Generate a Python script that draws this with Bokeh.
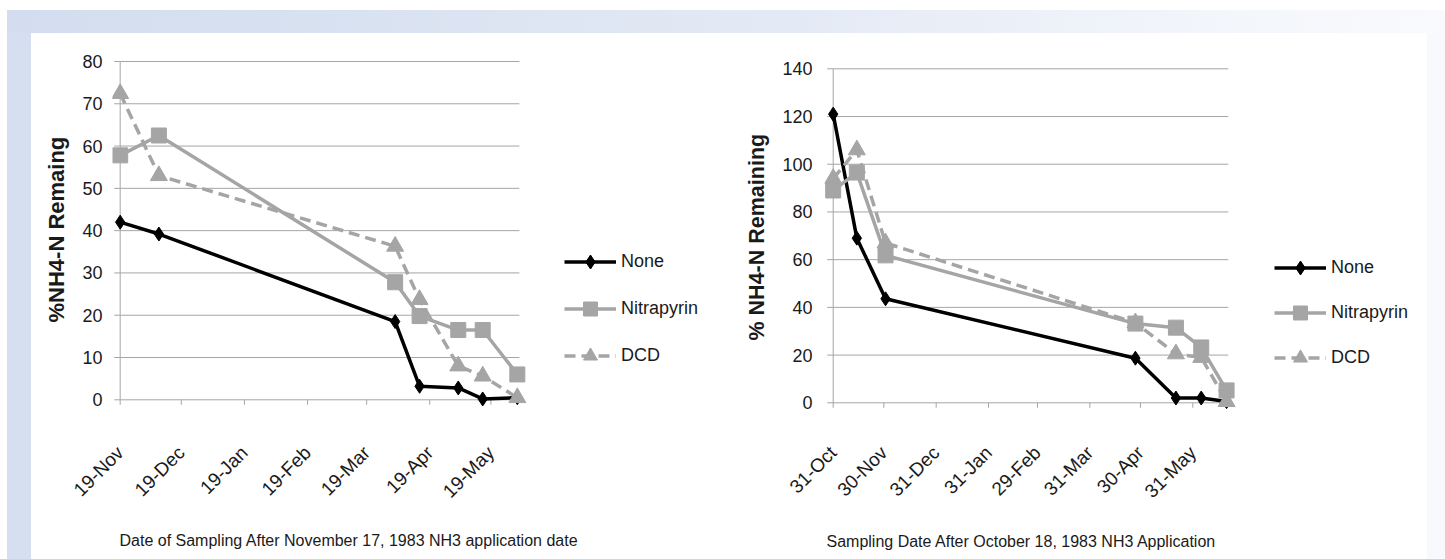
import math
import pandas as pd
from bokeh.plotting import figure
from bokeh.models import (Range1d, FixedTicker, DatetimeTickFormatter, Legend,
                          LegendItem, Title, Div, ColumnDataSource)
from bokeh.layouts import row, column
from bokeh.embed import file_html
from bokeh.resources import INLINE

# ---------------- data ----------------
series_names = ["None", "Nitrapyrin", "DCD"]

# Chart 1: NH3 applied November 17, 1983
c1_dates = ["1983-11-19", "1983-12-08", "1984-04-02", "1984-04-14",
            "1984-05-03", "1984-05-15", "1984-06-01"]
c1_none = [42.0, 39.2, 18.5, 3.2, 2.8, 0.2, 0.5]
c1_nitrapyrin = [57.8, 62.5, 27.8, 19.8, 16.5, 16.5, 6.0]
c1_dcd = [72.4, 53.0, 36.3, 23.7, 8.0, 5.6, 0.5]
c1_xticks = ["1983-11-19", "1983-12-19", "1984-01-19", "1984-02-19",
             "1984-03-19", "1984-04-19", "1984-05-19"]
c1_axis_end = "1984-06-02"
c1_yticks = [0, 10, 20, 30, 40, 50, 60, 70, 80]
c1_ytitle = "%NH4-N Remaing"
c1_xtitle = "Date of Sampling After November 17, 1983 NH3 application date"

# Chart 2: NH3 applied October 18, 1983
c2_dates = ["1983-10-31", "1983-11-14", "1983-12-01", "1984-04-27",
            "1984-05-21", "1984-06-05", "1984-06-20"]
c2_none = [121.0, 69.0, 43.6, 18.7, 2.0, 2.0, 0.5]
c2_nitrapyrin = [89.0, 96.5, 61.8, 33.2, 31.5, 23.2, 5.2]
c2_dcd = [94.0, 106.0, 67.0, 33.5, 20.5, 19.0, 0.5]
c2_xticks = ["1983-10-31", "1983-11-30", "1983-12-31", "1984-01-31",
             "1984-02-29", "1984-03-31", "1984-04-30", "1984-05-31"]
c2_axis_end = "1984-06-21"
c2_yticks = [0, 20, 40, 60, 80, 100, 120, 140]
c2_ytitle = "% NH4-N Remaining"
c2_xtitle = "Sampling Date After October 18, 1983 NH3 Application"

# ---------------- styling ----------------
FONT = "Liberation Sans"
GRID = "#a6a6a6"
GRAY = "#a5a5a5"
TXT = "#1a1a1a"


def ms(d):
    return (pd.Timestamp(d) - pd.Timestamp("1970-01-01")) / pd.Timedelta(milliseconds=1)


def make_chart(dates, none, nitra, dcd, xticks, axis_end, yticks, ytitle, xtitle,
               width, height, frame_px, axis_px, px_per_day, px_per_unit,
               frame_top_px, zero_px, frame_bottom_px,
               min_left, min_top, min_right, min_bottom,
               legend_loc, legend_spacing,
               ytitle_size, ytitle_offset, ytitle_standoff,
               xtitle_offset, xtitle_standoff, ylab_standoff, xlab_standoff,
               spacer):
    x_start = pd.Timestamp(xticks[0])
    x_end = pd.Timestamp(axis_end)
    # ranges chosen so the Excel axis sits at the right pixel inside a wider frame
    r_lo = x_start - pd.Timedelta(days=(axis_px - frame_px[0]) / px_per_day)
    r_hi = x_start + pd.Timedelta(days=(frame_px[1] - axis_px) / px_per_day)
    y_lo = -(frame_bottom_px - zero_px) / px_per_unit
    y_hi = (zero_px - frame_top_px) / px_per_unit
    p = figure(width=width, height=height, output_backend="svg",
               toolbar_location=None, x_axis_type="datetime",
               x_range=Range1d(r_lo, r_hi), y_range=Range1d(y_lo, y_hi),
               min_border_left=min_left, min_border_right=min_right,
               min_border_top=min_top, min_border_bottom=min_bottom)
    p.title.visible = False
    p.outline_line_color = None
    p.background_fill_color = "white"
    p.border_fill_color = "white"
    p.xgrid.visible = False
    p.ygrid.visible = False

    # Excel-style axes and gridlines, drawn in data space
    n = len(yticks)
    p.segment(x0=[x_start] * n, x1=[x_end] * n, y0=yticks, y1=yticks,
              line_color=GRID, line_width=1)
    p.segment(x0=[x_start], x1=[x_start], y0=[yticks[0]], y1=[yticks[-1]],
              line_color=GRID, line_width=1)
    p.ray(x=[x_start] * n, y=yticks, length=6, length_units="screen",
          angle=math.pi, line_color=GRID, line_width=1)
    xt_dates = pd.to_datetime(xticks)
    p.ray(x=xt_dates, y=[0] * len(xticks), length=5, length_units="screen",
          angle=-math.pi / 2, line_color=GRID, line_width=1)

    src = ColumnDataSource(dict(x=pd.to_datetime(dates), none=none,
                                nitra=nitra, dcd=dcd))

    l_none = p.line("x", "none", source=src, line_color="black", line_width=3.5,
                    line_join="round")
    s_none = p.scatter("x", "none", source=src, marker="diamond", size=14,
                       fill_color="black", line_color="black")
    l_dcd = p.line("x", "dcd", source=src, line_color=GRAY, line_width=3.5,
                   line_dash="11 6", line_join="round")
    s_dcd = p.scatter("x", "dcd", source=src, marker="triangle", size=17,
                      fill_color=GRAY, line_color=GRAY)
    l_nit = p.line("x", "nitra", source=src, line_color=GRAY, line_width=3.5,
                   line_join="round")
    s_nit = p.scatter("x", "nitra", source=src, marker="square", size=15,
                      fill_color=GRAY, line_color=GRAY)

    # Bokeh axes used only for their labels
    xa = p.xaxis[0]
    xa.ticker = FixedTicker(ticks=[ms(t) for t in xticks])
    fmt = "%d-%b"
    xa.formatter = DatetimeTickFormatter(milliseconds=fmt, seconds=fmt, minsec=fmt,
                                         minutes=fmt, hourmin=fmt, hours=fmt,
                                         days=fmt, months=fmt, years=fmt)
    xa.major_label_orientation = math.pi / 4
    xa.axis_line_color = None
    xa.major_tick_line_color = None
    xa.minor_tick_line_color = None
    xa.major_tick_out = 0
    xa.major_tick_in = 0
    xa.major_label_text_font = FONT
    xa.major_label_text_font_size = "19px"
    xa.major_label_text_color = TXT
    xa.major_label_standoff = xlab_standoff
    xa.axis_label = " "
    xa.axis_label_text_font_size = "1px"
    xa.axis_label_standoff = spacer

    ya = p.yaxis[0]
    ya.ticker = FixedTicker(ticks=yticks)
    ya.axis_line_color = None
    ya.major_tick_line_color = None
    ya.minor_tick_line_color = None
    ya.major_tick_out = 0
    ya.major_tick_in = 0
    ya.major_label_text_font = FONT
    ya.major_label_text_font_size = "18px"
    ya.major_label_text_color = TXT
    ya.major_label_standoff = ylab_standoff

    # titles
    yt = Title(text=ytitle, align="left", offset=ytitle_offset,
               text_font=FONT, text_font_style="bold",
               text_font_size=ytitle_size, text_color=TXT,
               standoff=ytitle_standoff)
    p.add_layout(yt, "left")
    xt = Title(text=xtitle, align="left", offset=xtitle_offset,
               text_font=FONT, text_font_style="normal",
               text_font_size="16px", text_color=TXT,
               standoff=xtitle_standoff)
    p.add_layout(xt, "below")

    legend = Legend(items=[
        LegendItem(label=series_names[0], renderers=[l_none, s_none]),
        LegendItem(label=series_names[1], renderers=[l_nit, s_nit]),
        LegendItem(label=series_names[2], renderers=[l_dcd, s_dcd]),
    ], location=legend_loc, orientation="vertical", glyph_width=52,
        glyph_height=35, label_height=35, label_standoff=5,
        spacing=legend_spacing, padding=0, margin=0,
        border_line_color=None, background_fill_alpha=0,
        label_text_font=FONT, label_text_font_size="18px",
        label_text_color=TXT)
    p.add_layout(legend)
    return p


H = 526
p1 = make_chart(c1_dates, c1_none, c1_nitrapyrin, c1_dcd, c1_xticks, c1_axis_end,
                c1_yticks, c1_ytitle, c1_xtitle,
                width=689, height=H, frame_px=(111, 710), axis_px=118.7,
                px_per_day=2.0401, px_per_unit=4.229,
                frame_top_px=55, zero_px=399.3, frame_bottom_px=409,
                min_left=80, min_top=22, min_right=10, min_bottom=150,
                legend_loc=(452, 36), legend_spacing=12,
                ytitle_size="22px", ytitle_offset=87, ytitle_standoff=21,
                xtitle_offset=7, xtitle_standoff=16, ylab_standoff=10,
                xlab_standoff=40, spacer=5)
p2 = make_chart(c2_dates, c2_none, c2_nitrapyrin, c2_dcd, c2_xticks, c2_axis_end,
                c2_yticks, c2_ytitle, c2_xtitle,
                width=707, height=H, frame_px=(824, 1417), axis_px=832.7,
                px_per_day=1.6883, px_per_unit=2.3857,
                frame_top_px=55, zero_px=402.3, frame_bottom_px=409,
                min_left=104, min_top=22, min_right=10, min_bottom=150,
                legend_loc=(450, 34), legend_spacing=10,
                ytitle_size="21.5px", ytitle_offset=69, ytitle_standoff=21,
                xtitle_offset=2, xtitle_standoff=16, ylab_standoff=12,
                xlab_standoff=40, spacer=6)

top = Div(text="", width=1445, height=33, margin=0,
          styles={"background": "linear-gradient(to bottom, #ffffff 0px, #ffffff 10px, rgba(255,255,255,0) 10px), "
                                 "linear-gradient(to right, #ffffff 0px, #ffffff 7px, #d3ddef 7px, #d9e2f1 25%, #e4eaf5 55%, #f3f6fb 85%, #f9fafd 100%)"})
left = Div(text="", width=31, height=H, margin=0,
           styles={"background": "linear-gradient(to right, #ffffff 0px, #ffffff 7px, #d5dff0 7px, #d5dff0 100%)"})
right = Div(text="", width=18, height=H, margin=0, styles={"background": "#f8f9fc"})

layout = column(top, row(left, p1, p2, right, spacing=0), spacing=0)

open("out.html", "w").write(file_html(layout, INLINE))
